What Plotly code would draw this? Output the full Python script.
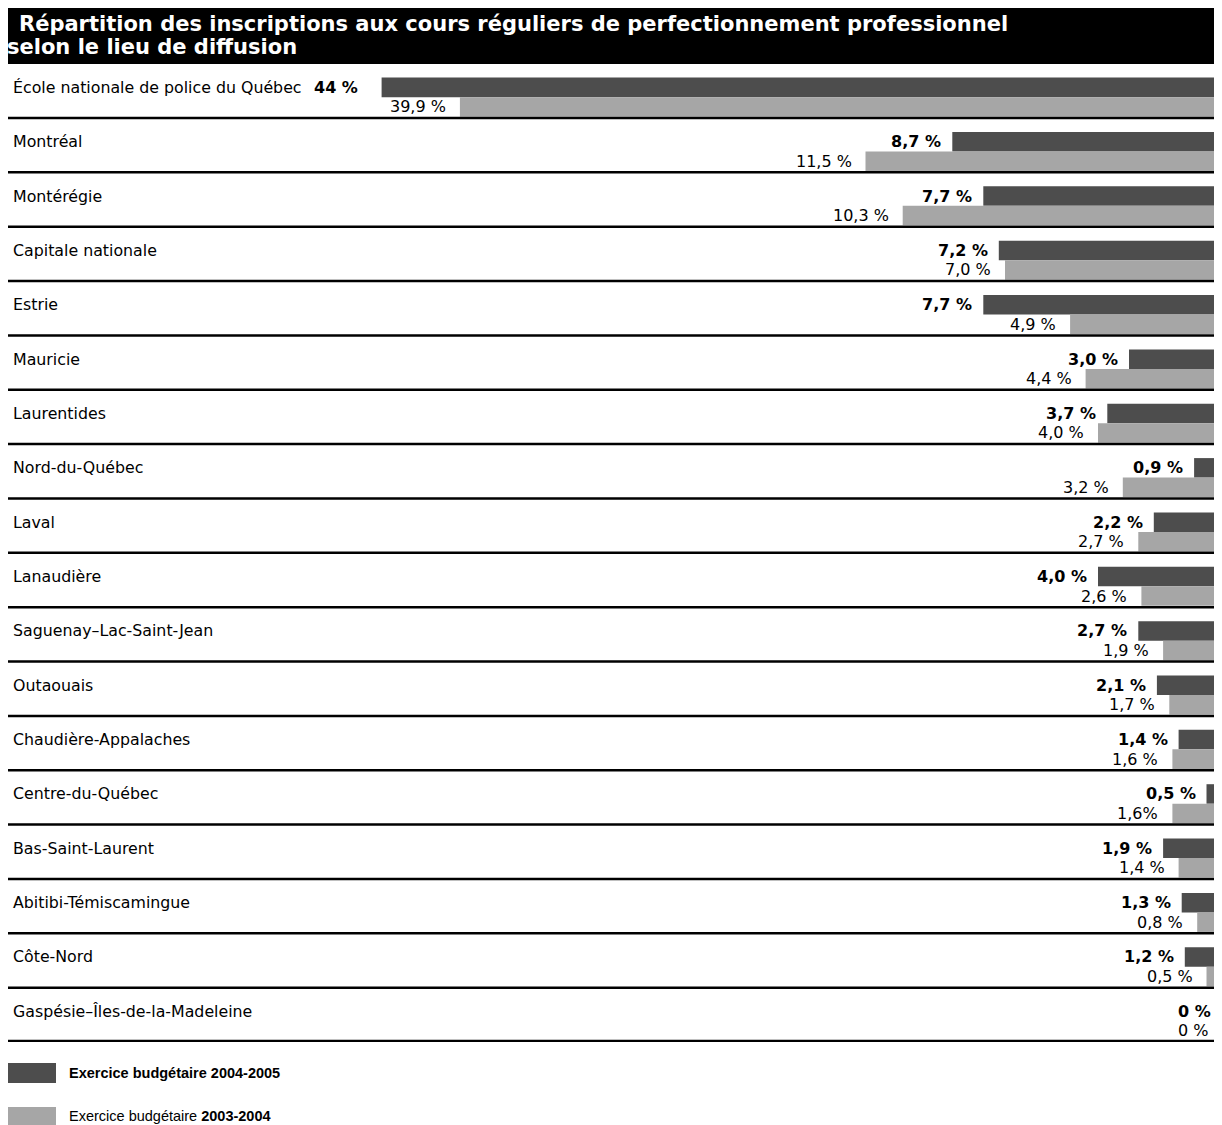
import plotly.graph_objects as go

# ---------------- data ----------------
categories = [
    "École nationale de police du Québec",
    "Montréal",
    "Montérégie",
    "Capitale nationale",
    "Estrie",
    "Mauricie",
    "Laurentides",
    "Nord-du-Québec",
    "Laval",
    "Lanaudière",
    "Saguenay–Lac-Saint-Jean",
    "Outaouais",
    "Chaudière-Appalaches",
    "Centre-du-Québec",
    "Bas-Saint-Laurent",
    "Abitibi-Témiscamingue",
    "Côte-Nord",
    "Gaspésie–Îles-de-la-Madeleine",
]
v2005 = [44, 8.7, 7.7, 7.2, 7.7, 3.0, 3.7, 0.9, 2.2, 4.0, 2.7, 2.1, 1.4, 0.5, 1.9, 1.3, 1.2, 0]
v2004 = [39.9, 11.5, 10.3, 7.0, 4.9, 4.4, 4.0, 3.2, 2.7, 2.6, 1.9, 1.7, 1.6, 1.6, 1.4, 0.8, 0.5, 0]
lab2005 = ["44 %", "8,7 %", "7,7 %", "7,2 %", "7,7 %", "3,0 %", "3,7 %", "0,9 %", "2,2 %",
           "4,0 %", "2,7 %", "2,1 %", "1,4 %", "0,5 %", "1,9 %", "1,3 %", "1,2 %", "0 %"]
lab2004 = ["39,9 %", "11,5 %", "10,3 %", "7,0 %", "4,9 %", "4,4 %", "4,0 %", "3,2 %", "2,7 %",
           "2,6 %", "1,9 %", "1,7 %", "1,6 %", "1,6%", "1,4 %", "0,8 %", "0,5 %", "0 %"]
title_line1 = "Répartition des inscriptions aux cours réguliers de perfectionnement professionnel"
title_line2 = "selon le lieu de diffusion"
legend_2005 = "<b>Exercice budgétaire 2004-2005</b>"
legend_2004 = "Exercice budgétaire <b>2003-2004</b>"

# ---------------- style ----------------
# the page body has an 8px margin: the figure is sized so that it fills the window
OFF = 8
W, H = 1222 - OFF, 1125 - OFF
DARK = "#4d4d4d"
LIGHT = "#a6a6a6"
FONT = "DejaVu Sans"
LEG_FONT = "Liberation Sans, Arial, sans-serif"


def px_x(p):
    """window pixel (reference) -> paper x"""
    return (p - OFF) / W


def px_y(p):
    """window pixel (reference) -> paper y"""
    return 1 - (p - OFF) / H


rows_top_px = 63.65
rows_bottom_px = 1042.0
n = len(categories)

big = [categories[0]]
rest = categories[1:]

fig = go.Figure()

# dark bars (2004-2005)
fig.add_trace(go.Bar(orientation="h", y=big, x=v2005[:1], offset=-0.243, width=0.359,
                     marker=dict(color=DARK, line=dict(width=0)), xaxis="x", yaxis="y",
                     hoverinfo="skip", showlegend=False))
fig.add_trace(go.Bar(orientation="h", y=rest, x=v2005[1:], offset=-0.243, width=0.359,
                     marker=dict(color=DARK, line=dict(width=0)), xaxis="x2", yaxis="y",
                     hoverinfo="skip", showlegend=False))
# light bars (2003-2004)
fig.add_trace(go.Bar(orientation="h", y=big, x=v2004[:1], offset=0.116, width=0.359,
                     marker=dict(color=LIGHT, line=dict(width=0)), xaxis="x", yaxis="y",
                     hoverinfo="skip", showlegend=False))
fig.add_trace(go.Bar(orientation="h", y=rest, x=v2004[1:], offset=0.116, width=0.359,
                     marker=dict(color=LIGHT, line=dict(width=0)), xaxis="x2", yaxis="y",
                     hoverinfo="skip", showlegend=False))

annotations = []
shapes = []

# title bar
shapes.append(dict(type="rect", xref="paper", yref="paper",
                   x0=px_x(7), x1=1, y0=px_y(64), y1=px_y(5),
                   fillcolor="black", line=dict(width=0), layer="below"))
annotations.append(dict(text=title_line1, xref="paper", yref="paper", x=px_x(17), y=px_y(24),
                        xanchor="left", yanchor="middle", showarrow=False,
                        font=dict(family=FONT, size=21, color="white", weight="bold")))
annotations.append(dict(text=title_line2, xref="paper", yref="paper", x=px_x(5), y=px_y(47),
                        xanchor="left", yanchor="middle", showarrow=False,
                        font=dict(family=FONT, size=21, color="white", weight="bold")))

# row labels, value labels, separators
for i, cat in enumerate(categories):
    annotations.append(dict(text=cat, xref="paper", yref="y", x=px_x(11), y=cat, yshift=3.5,
                            xanchor="left", yanchor="middle", showarrow=False,
                            font=dict(family=FONT, size=15.8, color="black")))
    xr = "x" if i == 0 else "x2"
    annotations.append(dict(text="<b>" + lab2005[i] + "</b>", xref=xr, yref="y", x=v2005[i], y=cat,
                            xshift=-22 if i == 0 else -9, yshift=3.5, xanchor="right",
                            yanchor="middle", showarrow=False,
                            font=dict(family=FONT, size=16, color="black")))
    annotations.append(dict(text=lab2004[i], xref=xr, yref="y", x=v2004[i], y=cat,
                            xshift=-12, yshift=-16, xanchor="right", yanchor="middle",
                            showarrow=False, font=dict(family=FONT, size=16, color="black")))
    shapes.append(dict(type="line", xref="paper", yref="y", x0=px_x(7), x1=1,
                       y0=i + 0.5, y1=i + 0.5,
                       line=dict(color="black", width=4.5 if i == n - 1 else 2.5)))

# legend
shapes.append(dict(type="rect", xref="paper", yref="paper", x0=px_x(6), x1=px_x(56),
                   y0=px_y(1083), y1=px_y(1063), fillcolor=DARK, line=dict(width=0)))
shapes.append(dict(type="rect", xref="paper", yref="paper", x0=px_x(6), x1=px_x(56),
                   y0=px_y(1125), y1=px_y(1107), fillcolor=LIGHT, line=dict(width=0)))
annotations.append(dict(text=legend_2005, xref="paper", yref="paper", x=px_x(67), y=px_y(1073),
                        xanchor="left", yanchor="middle", showarrow=False,
                        font=dict(family=LEG_FONT, size=14.5, color="black")))
annotations.append(dict(text=legend_2004, xref="paper", yref="paper", x=px_x(67), y=px_y(1116),
                        xanchor="left", yanchor="middle", showarrow=False,
                        font=dict(family=LEG_FONT, size=14.5, color="black")))

hidden = dict(showgrid=False, zeroline=False, showticklabels=False, showline=False, ticks="")

fig.update_layout(
    width=W, height=H,
    margin=dict(l=0, r=0, t=0, b=0, pad=0),
    paper_bgcolor="white", plot_bgcolor="white",
    barmode="overlay",
    showlegend=False,
    xaxis=dict(range=[W / 19.1, 0], domain=[0, 1], fixedrange=True, **hidden),
    xaxis2=dict(range=[W / 31.0, 0], domain=[0, 1], overlaying="x", fixedrange=True, **hidden),
    yaxis=dict(type="category", categoryorder="array", categoryarray=categories,
               range=[n - 0.5, -0.5], domain=[px_y(rows_bottom_px), px_y(rows_top_px)],
               fixedrange=True, **hidden),
    shapes=shapes,
    annotations=annotations,
)

fig.write_html("out.html")
